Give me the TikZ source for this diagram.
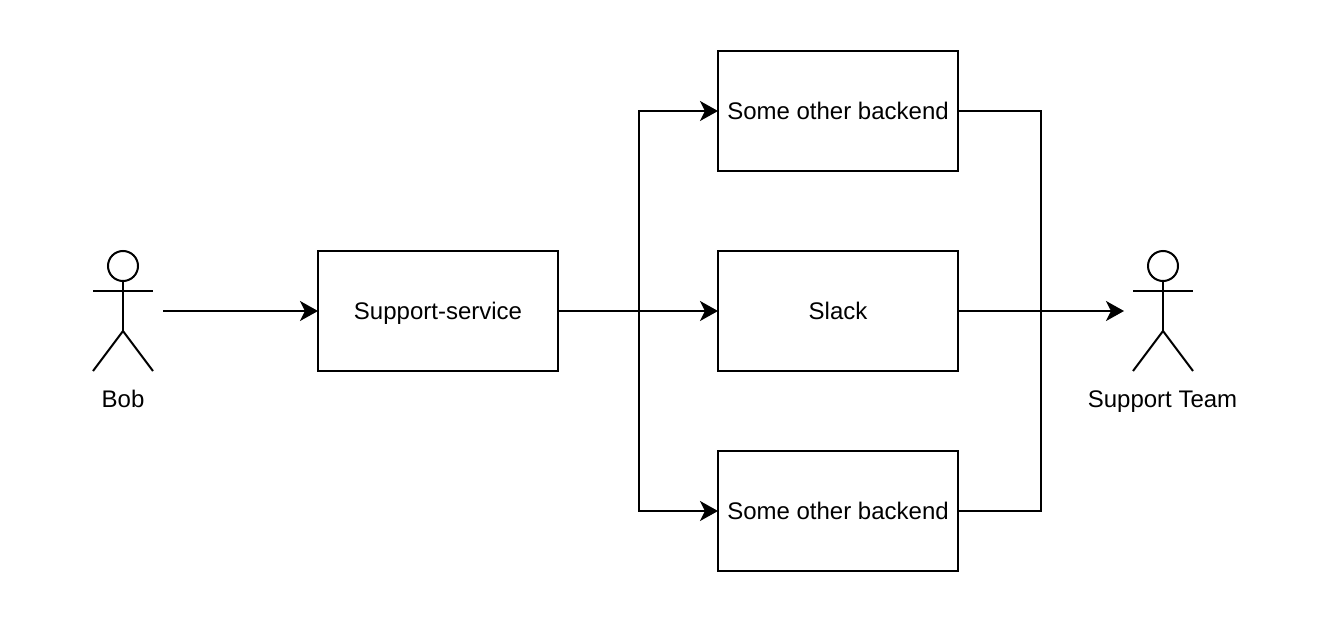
\documentclass[tikz,border=0pt]{standalone}
\usepackage{fontspec}
\setmainfont{Liberation Sans}
\usetikzlibrary{arrows.meta}
\begin{document}
\begin{tikzpicture}[x=1pt,y=-1pt,line width=2pt,
  box/.style={draw=black,minimum width=240pt,minimum height=120pt,inner sep=0pt,font=\fontsize{24}{28}\selectfont,text height=17pt,text depth=0pt},
  lbl/.style={inner sep=0pt,font=\fontsize{24}{28}\selectfont,text height=17pt,text depth=0pt},
  conn/.style={-{Stealth[length=18pt,width=20pt,inset=5pt]},line join=miter,shorten >=-1pt},
  plain/.style={line join=miter},
  actor/.pic={
    \draw (0,-45) circle[radius=15];
    \draw (0,-30) -- (0,20);
    \draw (-30,-20) -- (30,-20);
    \draw[line join=miter] (-30,60) -- (0,20) -- (30,60);
  }]
\useasboundingbox (0,0) rectangle (1322,634);
\fill[white] (0,0) rectangle (1322,634);
\pic at (123,311) {actor};
\pic at (1163,311) {actor};
\node[lbl] (boblabel) at (123,399) {Bob};
\node[lbl] (teamlabel) at (1162.5,399) {Support Team};
\coordinate (bobout) at (163,311);
\coordinate (teamin) at (1123,311);
\node[box] (svc) at (438,311) {Support-service};
\node[box] (top) at (838,111) {Some other backend};
\node[box] (slack) at (838,311) {Slack};
\node[box] (bot) at (838,511) {Some other backend};
\coordinate (busL) at (639,311);
\coordinate (busR) at (1041,311);
\draw[conn] (bobout) -- (svc.west);
\draw[conn] (svc.east) -- (busL) |- (top.west);
\draw[conn] (svc.east) -- (slack.west);
\draw[conn] (busL) |- (bot.west);
\draw[plain] (top.east) -| (busR);
\draw[plain] (bot.east) -| (busR);
\draw[conn] (slack.east) -- (teamin);
\end{tikzpicture}
\end{document}
